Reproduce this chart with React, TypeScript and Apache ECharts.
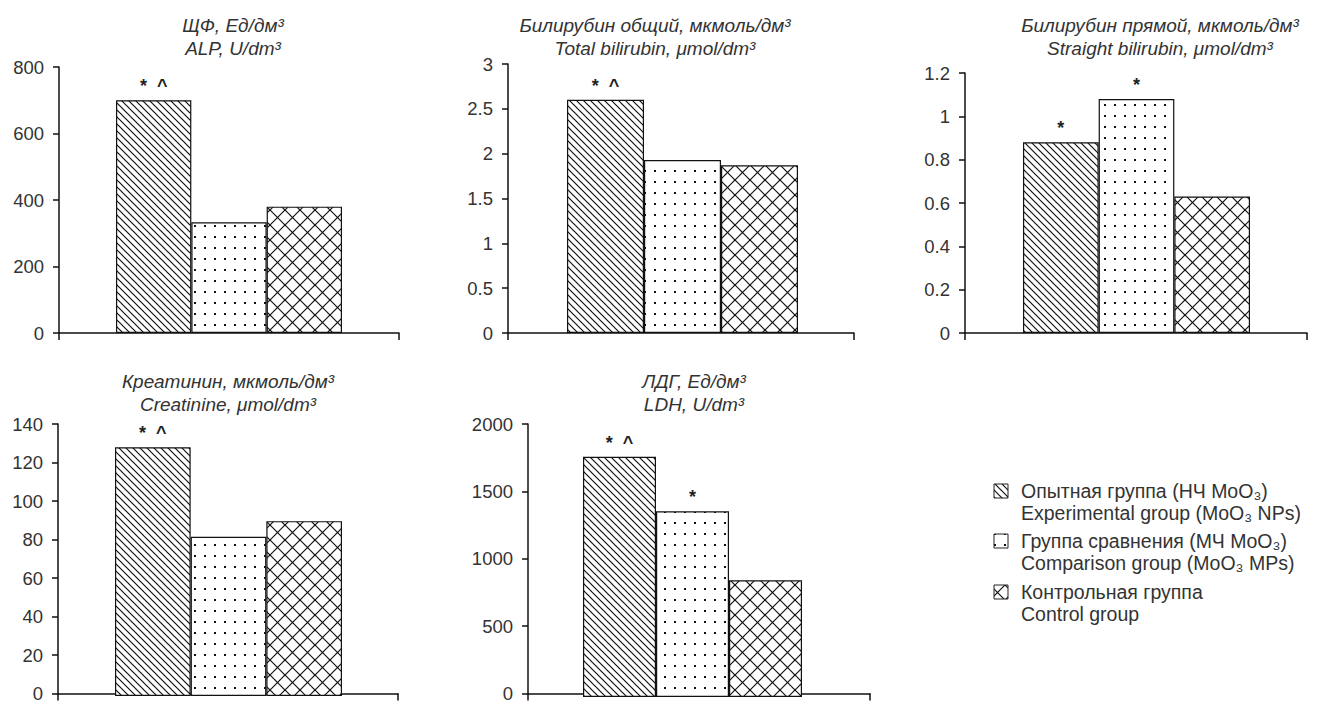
import { useEffect, useRef } from 'react';
import * as echarts from 'echarts';

const FONT = '"Liberation Sans", Arial, Helvetica, sans-serif';

// Groups (legend, two languages)
const groupNamesRu = ['Опытная группа (НЧ MoO₃)', 'Группа сравнения (МЧ MoO₃)', 'Контрольная группа'];
const groupNamesEn = ['Experimental group (MoO₃ NPs)', 'Comparison group (MoO₃ MPs)', 'Control group'];

// Panel titles
const titlesRu = ['ЩФ, Ед/дм³', 'Билирубин общий, мкмоль/дм³', 'Билирубин прямой, мкмоль/дм³', 'Креатинин, мкмоль/дм³', 'ЛДГ, Ед/дм³'];
const titlesEn = ['ALP, U/dm³', 'Total bilirubin, μmol/dm³', 'Straight bilirubin, μmol/dm³', 'Creatinine, μmol/dm³', 'LDH, U/dm³'];

// Values per group: experimental, comparison, control
const alpValues = [700, 333, 380];
const totalBilirubinValues = [2.6, 1.93, 1.87];
const directBilirubinValues = [0.88, 1.08, 0.63];
const creatinineValues = [128, 82, 90];
const ldhValues = [1760, 1360, 855];

// Significance marks above bars
const alpMarks = ['*  ^', '', ''];
const totalBilirubinMarks = ['*  ^', '', ''];
const directBilirubinMarks = ['*', '*', ''];
const creatinineMarks = ['*  ^', '', ''];
const ldhMarks = ['*  ^', '*', ''];

// Y axis scales
const axisMax = [800, 3, 1.2, 140, 2000];
const axisStep = [200, 0.5, 0.2, 20, 500];

const panelValues = [alpValues, totalBilirubinValues, directBilirubinValues, creatinineValues, ldhValues];
const panelMarks = [alpMarks, totalBilirubinMarks, directBilirubinMarks, creatinineMarks, ldhMarks];

// Layout of each panel (pixels)
const frames = [
  { left: 59, top: 67, width: 340, height: 266 },
  { left: 508, top: 64, width: 346, height: 269 },
  { left: 965, top: 73, width: 342, height: 260 },
  { left: 58, top: 424, width: 340, height: 272 },
  { left: 528, top: 424, width: 342, height: 273 },
];
const barAreas = [
  { left: 116, width: 226 },
  { left: 567, width: 231 },
  { left: 1023, width: 227 },
  { left: 115, width: 227 },
  { left: 583, width: 219 },
];
const titlePos = [
  { x: 233, y: 25 },
  { x: 655, y: 25 },
  { x: 1160, y: 25 },
  { x: 228, y: 381 },
  { x: 694, y: 381 },
];

function makeTile(w: number, h: number, draw: (ctx: CanvasRenderingContext2D, w: number, h: number) => void) {
  const c = document.createElement('canvas');
  c.width = w;
  c.height = h;
  const ctx = c.getContext('2d')!;
  ctx.fillStyle = '#ffffff';
  ctx.fillRect(0, 0, w, h);
  ctx.strokeStyle = '#111111';
  ctx.fillStyle = '#111111';
  draw(ctx, w, h);
  return c;
}

function diagDown(ctx: CanvasRenderingContext2D, s: number) {
  for (const k of [-s, 0, s]) {
    ctx.beginPath();
    ctx.moveTo(-1, -1 + k);
    ctx.lineTo(s + 1, s + 1 + k);
    ctx.stroke();
  }
}
function diagUp(ctx: CanvasRenderingContext2D, s: number) {
  for (const k of [-s, 0, s]) {
    ctx.beginPath();
    ctx.moveTo(-1, s + 1 + k);
    ctx.lineTo(s + 1, -1 + k);
    ctx.stroke();
  }
}

function buildPatterns() {
  const hatch = makeTile(7, 7, (ctx, s) => {
    ctx.lineWidth = 1.2;
    diagDown(ctx, s);
  });
  const dots = makeTile(10, 11, (ctx) => {
    ctx.fillRect(4, 5, 2, 2);
  });
  const cross = makeTile(15, 15, (ctx, s) => {
    ctx.lineWidth = 1.2;
    diagDown(ctx, s);
    diagUp(ctx, s);
  });
  return [hatch, dots, cross].map((image) => ({ image, repeat: 'repeat' as const }));
}

export default function App() {
  const ref = useRef<HTMLDivElement>(null);

  useEffect(() => {
    if (!ref.current) return;
    const chart = echarts.init(ref.current, null, { renderer: 'svg', width: 1318, height: 703 });
    const patterns = buildPatterns();

    const grid: any[] = [];
    const xAxis: any[] = [];
    const yAxis: any[] = [];
    const series: any[] = [];
    const graphic: any[] = [];

    const axisLineStyle = { color: '#111111', width: 1.5 };

    frames.forEach((f, p) => {
      const b = barAreas[p];
      // visible frame with axes
      grid.push({ left: f.left, top: f.top, width: f.width, height: f.height });
      // bar area sharing the same vertical scale
      grid.push({ left: b.left, top: f.top, width: b.width, height: f.height });

      xAxis.push({
        type: 'category',
        gridIndex: 2 * p,
        data: [''],
        boundaryGap: true,
        axisLine: { show: true, lineStyle: axisLineStyle },
        axisTick: { show: true, length: 7, inside: false, lineStyle: axisLineStyle },
        axisLabel: { show: false },
        splitLine: { show: false },
      });
      xAxis.push({ type: 'category', gridIndex: 2 * p + 1, data: [''], show: false });

      yAxis.push({
        type: 'value',
        gridIndex: 2 * p,
        min: 0,
        max: axisMax[p],
        interval: axisStep[p],
        axisLine: { show: true, lineStyle: axisLineStyle },
        axisTick: { show: true, length: 6, lineStyle: axisLineStyle },
        axisLabel: {
          fontSize: 18.5,
          color: '#333333',
          margin: 15,
          fontFamily: FONT,
          formatter: (v: number) => String(Math.round(v * 1000) / 1000),
        },
        splitLine: { show: false },
      });
      yAxis.push({
        type: 'value',
        gridIndex: 2 * p + 1,
        min: 0,
        max: axisMax[p],
        show: false,
        splitLine: { show: false },
      });

      panelValues[p].forEach((v, i) => {
        const mark = panelMarks[p][i];
        series.push({
          type: 'bar',
          name: groupNamesEn[i],
          xAxisIndex: 2 * p + 1,
          yAxisIndex: 2 * p + 1,
          barGap: '0%',
          barCategoryGap: '0%',
          silent: true,
          itemStyle: { color: patterns[i], borderColor: '#111111', borderWidth: 1.2 },
          label: {
            show: mark !== '',
            position: 'top',
            distance: 5,
            formatter: mark,
            fontSize: 18,
            fontWeight: 'bold',
            color: '#222222',
            fontFamily: FONT,
          },
          data: [v],
        });
      });

      const t = titlePos[p];
      [titlesRu[p], titlesEn[p]].forEach((text, line) => {
        graphic.push({
          type: 'text',
          style: {
            text,
            x: t.x,
            y: t.y + line * 23,
            align: 'center',
            verticalAlign: 'middle',
            fontSize: 19,
            fontStyle: 'italic',
            fontFamily: FONT,
            fill: '#333333',
          },
        });
      });
    });

    // Legend
    const legendRows = [491, 541, 592];
    legendRows.forEach((y, i) => {
      graphic.push({
        type: 'rect',
        shape: { x: 994, y: y - 7, width: 14, height: 14 },
        style: { fill: patterns[i], stroke: '#222222', lineWidth: 1 },
      });
      [groupNamesRu[i], groupNamesEn[i]].forEach((text, line) => {
        graphic.push({
          type: 'text',
          style: {
            text,
            x: 1021,
            y: y + line * 22,
            verticalAlign: 'middle',
            fontSize: 19.5,
            fontFamily: FONT,
            fill: '#333333',
          },
        });
      });
    });

    chart.setOption({
      animation: false,
      backgroundColor: '#ffffff',
      grid,
      xAxis,
      yAxis,
      series,
      graphic,
    });

    return () => chart.dispose();
  }, []);

  return (
    <div
      ref={ref}
      style={{ position: 'fixed', left: 0, top: 0, width: 1318, height: 703, background: '#ffffff' }}
    />
  );
}
